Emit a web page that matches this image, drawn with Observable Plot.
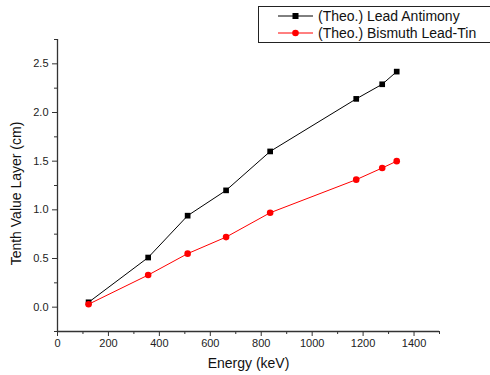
<!DOCTYPE html>
<html>
<head>
<meta charset="utf-8">
<script src="https://cdn.jsdelivr.net/npm/d3@7"></script>
<script src="https://cdn.jsdelivr.net/npm/@observablehq/plot@0.6"></script>
<style>
  html, body { margin: 0; padding: 0; background: #fff; }
  #wrap { position: relative; width: 490px; height: 375px; font-family: "Liberation Sans", Arial, sans-serif; }
  #legend { position: absolute; left: 258px; top: 6px; width: 231px; height: 35px; border: 1px solid #222; background: #fff; }
  #legend .row { position: absolute; left: 0; height: 16px; display: flex; align-items: center; font-size: 14px; color: #111; white-space: nowrap; }
  #legend svg { margin-left: 19px; margin-right: 5px; }
</style>
</head>
<body>
<div id="wrap"></div>
<script>
const energies = [122, 356, 511, 662, 835, 1173, 1275, 1332];
const leadAntimony = [0.05, 0.51, 0.94, 1.20, 1.60, 2.14, 2.29, 2.42];
const bismuthLeadTin = [0.03, 0.33, 0.55, 0.72, 0.97, 1.31, 1.43, 1.50];
const seriesNames = ["(Theo.) Lead Antimony", "(Theo.) Bismuth Lead-Tin"];
const seriesColors = ["#000000", "#ff0000"];
const xTicks = [0, 200, 400, 600, 800, 1000, 1200, 1400];
const xMinorTicks = [100, 300, 500, 700, 900, 1100, 1300, 1500];
const yTicks = [0.0, 0.5, 1.0, 1.5, 2.0, 2.5];
const yMinorTicks = [-0.25, 0.25, 0.75, 1.25, 1.75, 2.25, 2.75];

const rowsA = energies.map((e, i) => ({energy: e, tvl: leadAntimony[i]}));
const rowsB = energies.map((e, i) => ({energy: e, tvl: bismuthLeadTin[i]}));

const chart = Plot.plot({
  width: 490,
  height: 375,
  marginLeft: 57,
  marginRight: 51,
  marginTop: 39,
  marginBottom: 44,
  style: {fontFamily: "Liberation Sans, Arial, sans-serif", fontSize: "11px", color: "#222", background: "#fff"},
  x: {domain: [0, 1500]},
  y: {domain: [-0.25, 2.75]},
  marks: [
    Plot.axisX({ticks: xMinorTicks, tickSize: 3, text: null, label: null, stroke: "#333"}),
    Plot.axisX({ticks: xTicks, tickSize: 5, tickPadding: 3, tickFormat: d3.format("d"), stroke: "#333",
      label: "Energy (keV)", labelAnchor: "center", labelArrow: "none", labelOffset: 36}),
    Plot.axisY({ticks: yMinorTicks, tickSize: 3, text: null, label: null, stroke: "#333"}),
    Plot.axisY({ticks: yTicks, tickSize: 5, tickPadding: 4, tickFormat: d3.format(".1f"), stroke: "#333",
      label: "Tenth Value Layer (cm)", labelAnchor: "center", labelArrow: "none", labelOffset: 46}),
    Plot.ruleX([0], {stroke: "#333", strokeWidth: 1.3}),
    Plot.ruleY([-0.25], {stroke: "#333", strokeWidth: 1.3}),
    Plot.line(rowsA, {x: "energy", y: "tvl", stroke: seriesColors[0], strokeWidth: 1}),
    Plot.dot(rowsA, {x: "energy", y: "tvl", symbol: "square", fill: seriesColors[0], r: 3.2}),
    Plot.line(rowsB, {x: "energy", y: "tvl", stroke: seriesColors[1], strokeWidth: 1}),
    Plot.dot(rowsB, {x: "energy", y: "tvl", symbol: "circle", fill: seriesColors[1], r: 3.3})
  ]
});
d3.select(chart).selectAll("g[aria-label$='axis label'] text").style("font-size", "14px").style("fill", "#111");
d3.select(chart).selectAll("g[aria-label='y-axis label'] text").attr("dx", "-8");

const wrap = document.getElementById("wrap");
wrap.appendChild(chart);

const legend = d3.select(wrap).append("div").attr("id", "legend");
seriesNames.forEach((name, i) => {
  const row = legend.append("div").attr("class", "row").style("top", (i === 0 ? 1 : 18) + "px");
  const s = row.append("svg").attr("width", 35).attr("height", 10);
  s.append("line").attr("x1", 0).attr("x2", 35).attr("y1", 5).attr("y2", 5).attr("stroke", seriesColors[i]).attr("stroke-width", 1);
  if (i === 0) s.append("rect").attr("x", 14.5).attr("y", 2).attr("width", 6).attr("height", 6).attr("fill", seriesColors[i]);
  else s.append("circle").attr("cx", 17.5).attr("cy", 5).attr("r", 3.3).attr("fill", seriesColors[i]);
  row.append("span").text(name);
});
</script>
</body>
</html>
